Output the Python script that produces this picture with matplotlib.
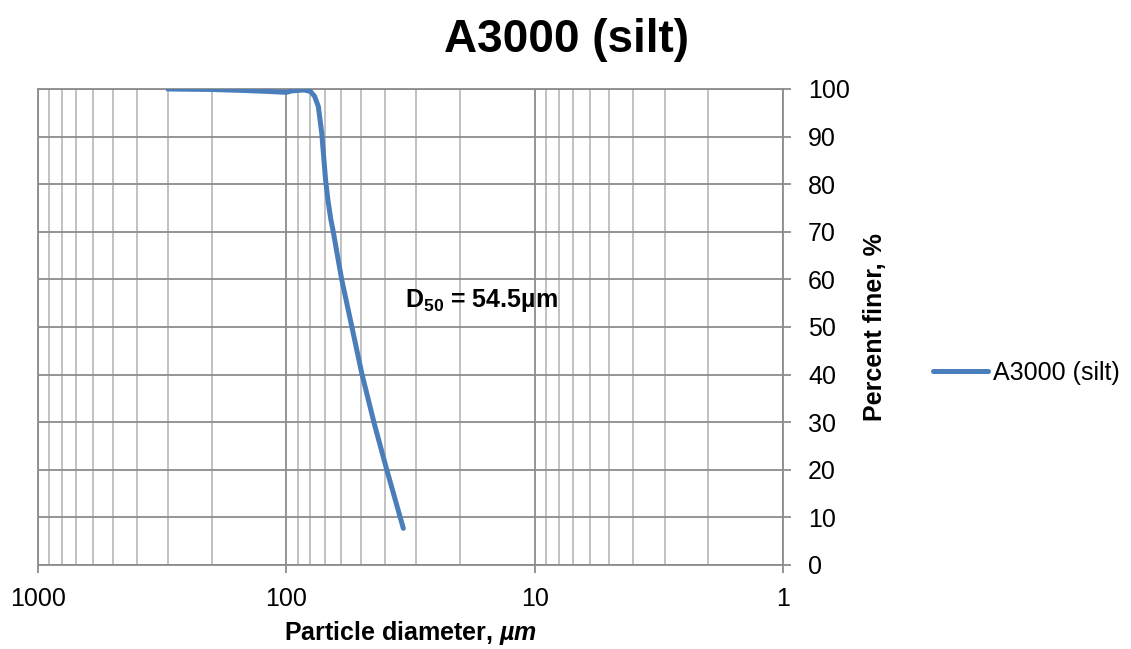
import matplotlib
matplotlib.use("Agg")
import matplotlib.pyplot as plt

plt.rcParams['font.family'] = ['Liberation Sans', 'DejaVu Sans']
plt.rcParams['mathtext.fontset'] = 'custom'
plt.rcParams['mathtext.rm'] = 'Liberation Sans:bold'
plt.rcParams['mathtext.bf'] = 'Liberation Sans:bold'
plt.rcParams['mathtext.it'] = 'Liberation Sans:italic:bold'

# Data (diameter in um, percent finer)
diameter = [300, 200, 150, 120, 100, 95, 85, 80, 77, 74.3, 72, 69.5, 68.0,
            66.3, 64.7, 62.3, 59.8, 54.5, 49.7, 44.3, 39.4, 33.8]
percent_finer = [100, 99.9, 99.7, 99.5, 99.3, 99.6, 99.8, 99.5, 98.5, 96.3,
                 90.7, 80.9, 76.7, 72.8, 70.0, 65.1, 59.9, 50.1, 40.3, 29.8,
                 20.0, 7.7]

x_ticks = [1000, 100, 10, 1]
x_ticklabels = ['1000', '100', '10', '1']
y_ticks = list(range(0, 101, 10))

TITLE = 'A3000 (silt)'
SERIES = 'A3000 (silt)'
LINECOLOR = '#4a7ebb'
MAJORGRID = '#8c8c8c'
MINORGRID = '#bcbcbc'
FS = 18

fig = plt.figure(figsize=(11.31, 6.49), dpi=100)
ax = fig.add_axes([38 / 1131, 1 - 565 / 649, (783 - 38) / 1131, (565 - 89) / 649])

ax.plot(diameter, percent_finer, color=LINECOLOR, lw=3.6,
        solid_capstyle='round', solid_joinstyle='round', label=SERIES, zorder=3)

ax.set_xscale('log')
ax.set_xlim(1000, 1)
ax.set_ylim(0, 100)

ax.set_xticks(x_ticks, labels=x_ticklabels, fontsize=FS)
ax.set_xticks([m * 10 ** e for e in range(0, 3) for m in range(2, 10)], minor=True)
ax.xaxis.set_minor_formatter(plt.NullFormatter())
ax.tick_params(axis='x', which='major', direction='out', length=6, width=1.3,
               color=MAJORGRID, pad=10)
ax.tick_params(axis='x', which='minor', length=0)

ax.yaxis.tick_right()
ax.set_yticks(y_ticks)
ax.tick_params(axis='y', labelsize=FS, direction='out', length=6, width=1.3,
               color=MAJORGRID, pad=12)

ax.grid(True, which='major', axis='both', color=MAJORGRID, lw=1.3, zorder=0)
ax.grid(True, which='minor', axis='x', color=MINORGRID, lw=1.3, zorder=0)
ax.set_axisbelow(True)

for side in ['left', 'top', 'right', 'bottom']:
    ax.spines[side].set_color(MAJORGRID)
    ax.spines[side].set_linewidth(1.3)

ax.text(33.3, 55.5, r'D$_\mathrm{50}$ = 54.5µm', fontsize=FS, fontweight='bold',
        ha='left', va='center')

fig.text(567 / 1131, 1 - 40 / 649, TITLE, fontsize=33, fontweight='bold',
         ha='center', va='center')
fig.text(410 / 1131, 1 - 633 / 649, r'Particle diameter, $µm$', fontsize=FS,
         fontweight='bold', ha='center', va='center')
fig.text(875 / 1131, 1 - 327 / 649, 'Percent finer, %', fontsize=FS,
         fontweight='bold', rotation=90, ha='center', va='center')

fig.legend(loc='center left', bbox_to_anchor=(933 / 1131, 1 - 373 / 649),
           frameon=False, fontsize=FS, borderpad=0, borderaxespad=0,
           handlelength=2.2, handletextpad=0.2)

fig.savefig('out.png', dpi=100)
